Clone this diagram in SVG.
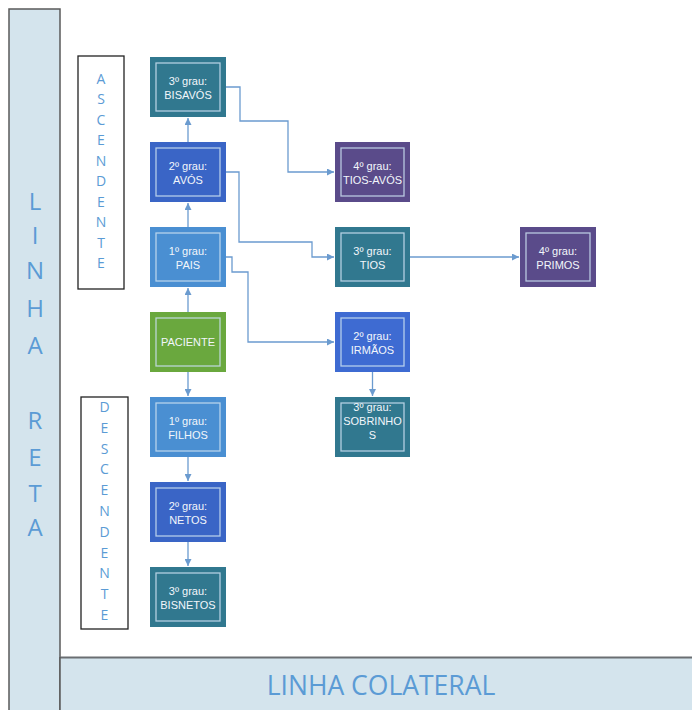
<svg xmlns="http://www.w3.org/2000/svg" width="692" height="710" viewBox="0 0 692 710">
<defs>
<style>
.bar{fill:#d4e4ed;}
.big{font-family:"Open Sans","Liberation Sans",sans-serif;fill:#5b9bd5;text-anchor:middle;}
.vl{font-size:24px;}
.sl{font-size:14px;}
.box{fill:#ffffff;stroke:#222;stroke-width:1.3;}
.node rect.o{stroke:none;}
.node rect.i{fill:none;stroke:#c9def0;stroke-opacity:0.85;stroke-width:1.3;}
.node text{font-family:"Liberation Sans",Arial,sans-serif;font-size:11px;fill:#f2f6fb;text-anchor:middle;}
.teal{fill:#31788f;}
.blue{fill:#3a65c6;}
.blue2{fill:#3e6bd2;}
.lblue{fill:#4a8fd2;}
.green{fill:#6aa83e;}
.purple{fill:#5a4b8a;}
.conn path{fill:none;stroke:#6b9bcf;stroke-width:1.3;marker-end:url(#arr);}
</style>
<marker id="arr" viewBox="0 0 10 10" refX="10" refY="5" markerWidth="7" markerHeight="7" markerUnits="userSpaceOnUse" orient="auto">
<path d="M0,0 L10,5 L0,10 z" fill="#6b9bcf"/>
</marker>
</defs>
<rect width="692" height="710" fill="#ffffff"/>

<g id="linha-reta">
<rect x="9" y="9" width="51" height="710" class="bar" stroke="#5a5a5a" stroke-width="1.5"/>
<g class="big vl">
<text x="35" y="210">L</text>
<text x="35" y="244">I</text>
<text x="35" y="279">N</text>
<text x="35" y="317">H</text>
<text x="35" y="354">A</text>
<text x="35" y="429">R</text>
<text x="35" y="466">E</text>
<text x="35" y="502">T</text>
<text x="35" y="536">A</text>
</g>
</g>

<g id="linha-colateral">
<rect x="60" y="657.5" width="640" height="60" class="bar"/>
<line x1="60" y1="657.5" x2="692" y2="657.5" stroke="#6a6e72" stroke-width="2"/>
<line x1="60" y1="657" x2="60" y2="710" stroke="#5a5a5a" stroke-width="1.5"/>
<text x="381" y="695" class="big" font-size="26.5">LINHA COLATERAL</text>
</g>

<g id="ascendente">
<rect x="78" y="56" width="46" height="233" class="box"/>
<g class="big sl">
<text x="101" y="84">A</text>
<text x="101" y="104">S</text>
<text x="101" y="125">C</text>
<text x="101" y="145">E</text>
<text x="101" y="166">N</text>
<text x="101" y="186">D</text>
<text x="101" y="207">E</text>
<text x="101" y="227">N</text>
<text x="101" y="248">T</text>
<text x="101" y="268">E</text>
</g>
</g>

<g id="descendente">
<rect x="81" y="397" width="47" height="232" class="box"/>
<g class="big sl">
<text x="104.5" y="412">D</text>
<text x="104.5" y="433">E</text>
<text x="104.5" y="454">S</text>
<text x="104.5" y="474">C</text>
<text x="104.5" y="495">E</text>
<text x="104.5" y="516">N</text>
<text x="104.5" y="537">D</text>
<text x="104.5" y="558">E</text>
<text x="104.5" y="578">N</text>
<text x="104.5" y="599">T</text>
<text x="104.5" y="620">E</text>
</g>
</g>

<g class="conn" id="connectors">
<path d="M188,227 V203"/>
<path d="M188,142 V118"/>
<path d="M188,312 V288"/>
<path d="M188,372 V396"/>
<path d="M188,457 V481"/>
<path d="M188,542 V566"/>
<path d="M226,87 H240 V121 H288 V172 H334"/>
<path d="M226,172 H239 V242 H312 V257 H334"/>
<path d="M226,257 H232 V272 H248 V342 H334"/>
<path d="M410,257 H519"/>
<path d="M372.5,372 V396"/>
</g>

<g id="bisavos" class="node">
<rect class="o teal" x="150" y="57" width="76" height="60"/>
<rect class="i" x="156" y="63" width="64" height="48"/>
<text x="188" y="85">3º grau:</text><text x="188" y="99">BISAVÓS</text>
</g>
<g id="avos" class="node">
<rect class="o blue" x="150" y="142" width="76" height="60"/>
<rect class="i" x="156" y="148" width="64" height="48"/>
<text x="188" y="170">2º grau:</text><text x="188" y="184">AVÓS</text>
</g>
<g id="pais" class="node">
<rect class="o lblue" x="150" y="227" width="76" height="60"/>
<rect class="i" x="156" y="233" width="64" height="48"/>
<text x="188" y="255">1º grau:</text><text x="188" y="269">PAIS</text>
</g>
<g id="paciente" class="node">
<rect class="o green" x="150" y="312" width="76" height="60"/>
<rect class="i" x="156" y="318" width="64" height="48"/>
<text x="188" y="346">PACIENTE</text>
</g>
<g id="filhos" class="node">
<rect class="o lblue" x="150" y="397" width="76" height="60"/>
<rect class="i" x="156" y="403" width="64" height="48"/>
<text x="188" y="425">1º grau:</text><text x="188" y="439">FILHOS</text>
</g>
<g id="netos" class="node">
<rect class="o blue" x="150" y="482" width="76" height="60"/>
<rect class="i" x="156" y="488" width="64" height="48"/>
<text x="188" y="510">2º grau:</text><text x="188" y="524">NETOS</text>
</g>
<g id="bisnetos" class="node">
<rect class="o teal" x="150" y="567" width="76" height="60"/>
<rect class="i" x="156" y="573" width="64" height="48"/>
<text x="188" y="595">3º grau:</text><text x="188" y="609">BISNETOS</text>
</g>
<g id="tios-avos" class="node">
<rect class="o purple" x="335" y="142" width="75" height="60"/>
<rect class="i" x="341" y="148" width="63" height="48"/>
<text x="372.5" y="170">4º grau:</text><text x="372.5" y="184">TIOS-AVÓS</text>
</g>
<g id="tios" class="node">
<rect class="o teal" x="335" y="227" width="75" height="60"/>
<rect class="i" x="341" y="233" width="63" height="48"/>
<text x="372.5" y="255">3º grau:</text><text x="372.5" y="269">TIOS</text>
</g>
<g id="irmaos" class="node">
<rect class="o blue2" x="335" y="312" width="75" height="60"/>
<rect class="i" x="341" y="318" width="63" height="48"/>
<text x="372.5" y="340">2º grau:</text><text x="372.5" y="354">IRMÃOS</text>
</g>
<g id="sobrinhos" class="node">
<rect class="o teal" x="335" y="397" width="75" height="60"/>
<rect class="i" x="341" y="403" width="63" height="48"/>
<text x="372.5" y="411">3º grau:</text><text x="372.5" y="425">SOBRINHO</text><text x="372.5" y="439">S</text>
</g>
<g id="primos" class="node">
<rect class="o purple" x="520" y="227" width="76" height="60"/>
<rect class="i" x="526" y="233" width="64" height="48"/>
<text x="558" y="255">4º grau:</text><text x="558" y="269">PRIMOS</text>
</g>
</svg>
